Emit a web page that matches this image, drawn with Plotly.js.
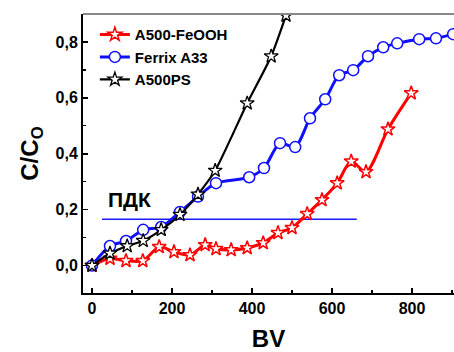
<!DOCTYPE html>
<html>
<head>
<meta charset="utf-8">
<script src="https://cdn.plot.ly/plotly-3.0.1.min.js"></script>
<style>
  html, body { margin: 0; padding: 0; background: #fff; }
  #chart { width: 454px; height: 352px; }
</style>
</head>
<body>
<div id="chart"></div>
<script>
// Breakthrough curves: relative concentration C/Co versus bed volumes (BV)
const feoohBV = [0, 45, 85, 127, 168, 205, 245, 283, 310, 348, 388, 428, 465, 500, 538, 575, 613, 648, 685, 740, 798];
const feoohC  = [0, 0.025, 0.017, 0.017, 0.067, 0.049, 0.038, 0.074, 0.060, 0.056, 0.063, 0.081, 0.117, 0.135, 0.185, 0.235, 0.295, 0.373, 0.335, 0.488, 0.617];

const ferrixBV = [0, 45, 85, 128, 173, 220, 265, 310, 393, 430, 470, 508, 545, 583, 618, 653, 690, 728, 763, 818, 860, 903];
const ferrixC  = [0, 0.070, 0.088, 0.128, 0.138, 0.192, 0.247, 0.295, 0.316, 0.349, 0.438, 0.424, 0.527, 0.595, 0.681, 0.699, 0.749, 0.781, 0.795, 0.810, 0.813, 0.828];

const psBV = [0, 45, 88, 128, 173, 220, 265, 308, 388, 448, 485];
const psC  = [0, 0.044, 0.070, 0.089, 0.128, 0.182, 0.255, 0.340, 0.581, 0.749, 0.895];

// Maximum permissible concentration level (ПДК)
const pdkBV = [25, 662];
const pdkC  = [0.166, 0.166];

const seriesNames = ['A500-FeOOH', 'Ferrix A33', 'A500PS'];
const xTicks = [0, 200, 400, 600, 800];
const yTicks = [0, 0.2, 0.4, 0.6, 0.8];

const FONT = 'Arial, "Liberation Sans", sans-serif';

const traces = [
  {
    x: pdkBV, y: pdkC, mode: 'lines', showlegend: false, hoverinfo: 'skip',
    line: { color: '#1a1aff', width: 1.5 }
  },
  {
    x: feoohBV, y: feoohC, name: seriesNames[0], mode: 'lines+markers',
    line: { color: '#ff0000', width: 3, shape: 'spline', smoothing: 0.8 },
    marker: { symbol: 'star', size: 10.5, color: '#ffffff', line: { color: '#ff0000', width: 1.5 } }
  },
  {
    x: ferrixBV, y: ferrixC, name: seriesNames[1], mode: 'lines+markers',
    line: { color: '#1010ff', width: 3, shape: 'spline', smoothing: 0.8 },
    marker: { symbol: 'circle', size: 11, color: '#ffffff', line: { color: '#1010ff', width: 1.5 } }
  },
  {
    x: psBV, y: psC, name: seriesNames[2], mode: 'lines+markers',
    line: { color: '#000000', width: 2.2, shape: 'spline', smoothing: 0.6 },
    marker: { symbol: 'star', size: 10.5, color: '#ffffff', line: { color: '#000000', width: 1.3 } }
  }
];

const layout = {
  width: 454, height: 352,
  margin: { l: 83, r: 0, t: 14, b: 59 },
  paper_bgcolor: '#ffffff', plot_bgcolor: '#ffffff',
  separators: ',.',
  font: { family: FONT, color: '#000', size: 16, weight: 'bold' },
  showlegend: true,
  legend: {
    x: 0.032, y: 0.985, xanchor: 'left', yanchor: 'top',
    bgcolor: 'rgba(0,0,0,0)', borderwidth: 0,
    font: { family: FONT, size: 15, color: '#000', weight: 'bold' }
  },
  xaxis: {
    range: [-22.5, 905], showgrid: false, zeroline: false,
    showline: true, linecolor: '#000', linewidth: 2,
    ticks: 'inside', ticklen: 5, tickwidth: 1.5, tickcolor: '#000',
    tickvals: xTicks, ticktext: xTicks.map(String),
    minor: { dtick: 100, tick0: 0, ticks: 'inside', ticklen: 3, tickwidth: 1.2, tickcolor: '#000' },
    tickfont: { family: FONT, size: 16, weight: 'bold' },
    title: { text: 'BV', font: { family: FONT, size: 24, weight: 'bold' }, standoff: 16 }
  },
  yaxis: {
    range: [-0.098, 0.9], showgrid: false, zeroline: false,
    showline: true, linecolor: '#000', linewidth: 2,
    ticks: 'inside', ticklen: 5, tickwidth: 1.5, tickcolor: '#000',
    tickvals: yTicks, ticktext: yTicks.map(v => v.toFixed(1).replace('.', ',')),
    minor: { dtick: 0.1, tick0: 0, ticks: 'inside', ticklen: 3, tickwidth: 1.2, tickcolor: '#000' },
    tickfont: { family: FONT, size: 16, weight: 'bold' },
    title: { text: 'C/C<sub>O</sub>', font: { family: FONT, size: 24, weight: 'bold' }, standoff: 10 }
  },
  shapes: [
    { type: 'line', xref: 'paper', yref: 'paper', x0: 0, x1: 1, y0: 1, y1: 1,
      line: { color: '#888888', width: 2 } }
  ],
  annotations: [
    { x: 93, y: 0.238, xref: 'x', yref: 'y', text: 'ПДК', showarrow: false,
      font: { family: FONT, size: 21, weight: 'bold', color: '#000' } }
  ]
};

Plotly.newPlot('chart', traces, layout, { displayModeBar: false, staticPlot: true });
</script>
</body>
</html>
